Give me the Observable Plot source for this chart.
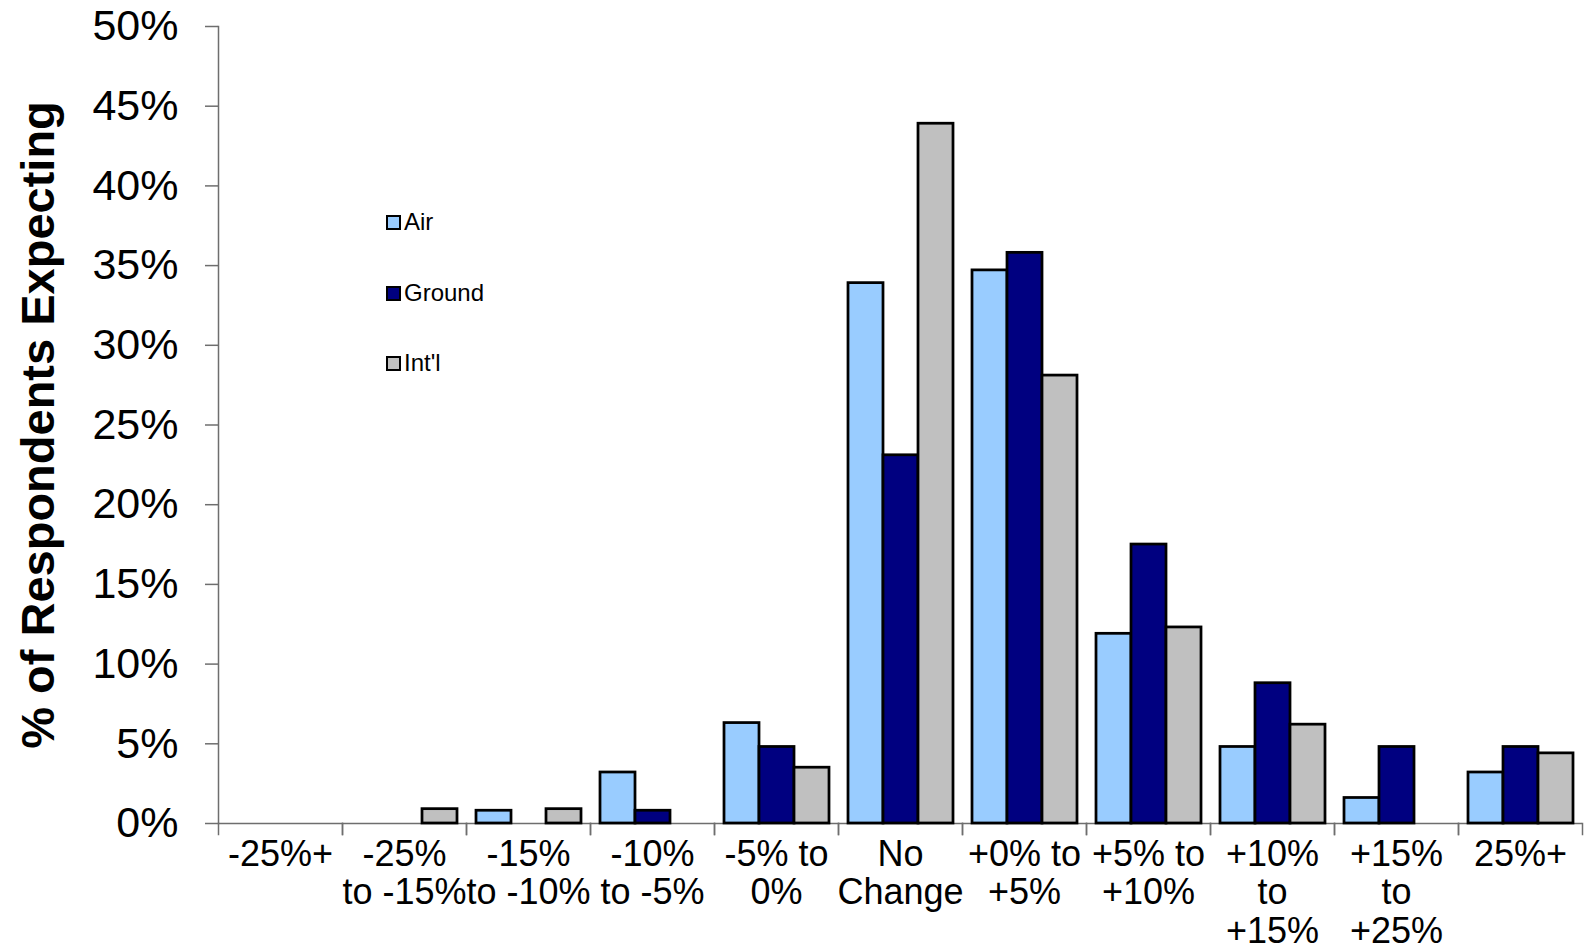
<!DOCTYPE html>
<html>
<head>
<meta charset="utf-8">
<script src="https://cdn.jsdelivr.net/npm/d3@7"></script>
<script src="https://cdn.jsdelivr.net/npm/@observablehq/plot@0.6"></script>
<style>
  html, body { margin: 0; padding: 0; background: white; }
  #wrap { position: relative; width: 1585px; height: 950px; font-family: "Liberation Sans", Arial, sans-serif; }
  #legend { position: absolute; left: 386px; top: 0; }
  .item { position: absolute; left: 0; display: flex; align-items: center; white-space: nowrap; font-size: 24px; color: black; transform: translateY(-50%); }
  .sw { width: 11px; height: 11px; border: 2.5px solid black; margin-right: 3px; }
</style>
</head>
<body>
<div id="wrap"><div id="legend"></div></div>
<script>
const categories = ["-25%+", "-25% to -15%", "-15% to -10%", "-10% to -5%", "-5% to 0%", "No Change",
  "+0% to +5%", "+5% to +10%", "+10% to +15%", "+15% to +25%", "25%+"];
const tickLabels = ["-25%+", "-25%\nto -15%", "-15%\nto -10%", "-10%\nto -5%", "-5% to\n0%", "No\nChange",
  "+0% to\n+5%", "+5% to\n+10%", "+10%\nto\n+15%", "+15%\nto\n+25%", "25%+"];
const series = ["Air", "Ground", "Int'l"];
const air    = [0, 0,   0.8, 3.2, 6.3, 33.9, 34.7, 11.9, 4.8, 1.6, 3.2];
const ground = [0, 0,   0,   0.8, 4.8, 23.1, 35.8, 17.5, 8.8, 4.8, 4.8];
const intl   = [0, 0.9, 0.9, 0,   3.5, 43.9, 28.1, 12.3, 6.2, 0,   4.4];
const colors = ["#99CCFF", "#000080", "#C0C0C0"];
const yTicks = [0, 5, 10, 15, 20, 25, 30, 35, 40, 45, 50];

const valuesBySeries = [air, ground, intl];
const data = categories.flatMap((c, i) => series.map((s, j) => ({cat: c, series: s, value: valuesBySeries[j][i]})));
const labelOf = new Map(categories.map((c, i) => [c, tickLabels[i]]));

const W = 1585, H = 950, mt = 26, mb = 127, ml = 216, mr = 1;
const innerH = H - mt - mb;
const axisColor = "#6e6e6e";

const chart = Plot.plot({
  width: W, height: H,
  marginTop: mt, marginBottom: mb, marginLeft: ml, marginRight: mr,
  style: {fontFamily: "'Liberation Sans', Arial, sans-serif", color: "black", background: "white"},
  fx: {domain: categories, padding: 0, label: null},
  x: {domain: series, paddingInner: 0, paddingOuter: 0.238, axis: null},
  y: {domain: [0, 50], label: null},
  color: {domain: series, range: colors},
  marks: [
    Plot.ruleY([0], {stroke: axisColor, strokeWidth: 1.5}),
    Plot.frame({anchor: "left", facet: "super", stroke: axisColor, strokeWidth: 1.5}),
    Plot.frame({anchor: "left", insetTop: innerH, insetBottom: -11, stroke: axisColor, strokeWidth: 1.5}),
    Plot.frame({anchor: "right", insetTop: innerH, insetBottom: -11, stroke: axisColor, strokeWidth: 1.5}),
    Plot.barY(data, {fx: "cat", x: "series", y: "value", fill: "series",
      stroke: d => d.value > 0 ? "black" : "none", strokeWidth: 2.75}),
    Plot.axisY({ticks: yTicks, tickFormat: d => d + "%", tickSize: 13, tickPadding: 27, fontSize: 43,
      stroke: axisColor, strokeWidth: 1.5, label: null}),
    Plot.axisY({ticks: [], label: "% of Respondents Expecting", labelAnchor: "center", labelArrow: "none",
      labelOffset: 198, fontSize: 47, fontWeight: "bold"}),
    Plot.axisFx({anchor: "bottom", tickSize: 0, tickPadding: 15, fontSize: 36, lineHeight: 1.07,
      tickFormat: d => labelOf.get(d), label: null})
  ]
});
document.getElementById("wrap").prepend(chart);

const legendTops = [222, 293, 363];
const legend = document.getElementById("legend");
series.forEach((s, i) => {
  const item = document.createElement("div");
  item.className = "item";
  item.style.top = legendTops[i] + "px";
  const sw = document.createElement("div");
  sw.className = "sw";
  sw.style.background = colors[i];
  const t = document.createElement("span");
  t.textContent = s;
  item.append(sw, t);
  legend.append(item);
});
</script>
</body>
</html>
